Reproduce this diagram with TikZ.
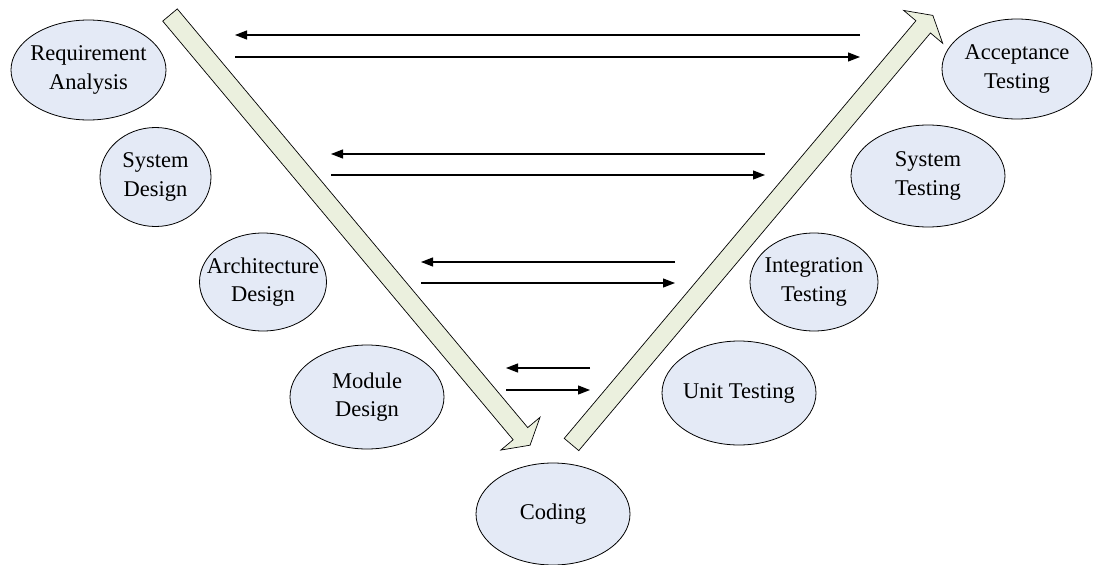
\documentclass[tikz,border=0pt]{standalone}
\usepackage{fontspec}
\setmainfont{Liberation Serif}
\usetikzlibrary{shapes.geometric,arrows.meta}
\definecolor{ellfill}{HTML}{E4EAF6}
\definecolor{arrfill}{HTML}{EBF0DE}
\tikzset{
  phase/.style={ellipse, draw=black, line width=0.8pt, fill=ellfill, inner sep=-30pt,
    align=center, font=\fontsize{22.5}{28.5}\selectfont},
  flow/.style={line width=1.2pt, -{Triangle[length=12pt,width=9pt]}},
  blockarrow/.style={draw=black, line width=0.7pt, fill=arrfill, line join=miter}
}
\begin{document}
\begin{tikzpicture}[x=1pt,y=1pt]
\useasboundingbox (0,0) rectangle (1093,-565);
% phases
\node[phase, minimum width=155pt, minimum height=100pt] (ra) at (88.5,-70) {Requirement\\Analysis};
\node[phase, minimum width=111pt, minimum height=99pt] (sd) at (155.5,-177) {System\\Design};
\node[phase, minimum width=127pt, minimum height=98pt] (ad) at (263,-282) {Architecture\\Design};
\node[phase, minimum width=154pt, minimum height=104pt] (md) at (367,-397) {Module\\Design};
\node[phase, minimum width=154pt, minimum height=102pt] (cd) at (553,-514) {Coding};
\node[phase, minimum width=154pt, minimum height=104pt] (ut) at (739,-393) {Unit Testing};
\node[phase, minimum width=128pt, minimum height=98pt] (it) at (814,-282) {Integration\\Testing};
\node[phase, minimum width=154pt, minimum height=102pt] (st) at (928,-176) {System\\Testing};
\node[phase, minimum width=150pt, minimum height=100pt] (at) at (1017,-69) {Acceptance\\Testing};
% big block arrows
\begin{scope}[shift={(170,-15)}, rotate=-50.07]
  \draw[blockarrow] (0,9.5) -- (546,9.5) -- (546,25.5) -- (561,0) -- (546,-25.5) -- (546,-9.5) -- (0,-9.5) -- cycle;
\end{scope}
\begin{scope}[shift={(571.5,-444.5)}, rotate=49.9]
  \draw[blockarrow] (0,9.5) -- (546,9.5) -- (546,25.5) -- (561,0) -- (546,-25.5) -- (546,-9.5) -- (0,-9.5) -- cycle;
\end{scope}
% horizontal arrows
\coordinate (l1) at (235,-35);  \coordinate (r1) at (860,-35);
\coordinate (l1b) at (235,-57); \coordinate (r1b) at (860,-57);
\coordinate (l2) at (331,-154); \coordinate (r2) at (765,-154);
\coordinate (l2b) at (331,-175);\coordinate (r2b) at (765,-175);
\coordinate (l3) at (421,-262); \coordinate (r3) at (675,-262);
\coordinate (l3b) at (421,-283);\coordinate (r3b) at (675,-283);
\coordinate (l4) at (506,-368); \coordinate (r4) at (590,-368);
\coordinate (l4b) at (506,-390);\coordinate (r4b) at (590,-390);
\draw[flow] (r1) -- (l1);
\draw[flow] (l1b) -- (r1b);
\draw[flow] (r2) -- (l2);
\draw[flow] (l2b) -- (r2b);
\draw[flow] (r3) -- (l3);
\draw[flow] (l3b) -- (r3b);
\draw[flow] (r4) -- (l4);
\draw[flow] (l4b) -- (r4b);
\end{tikzpicture}
\end{document}
